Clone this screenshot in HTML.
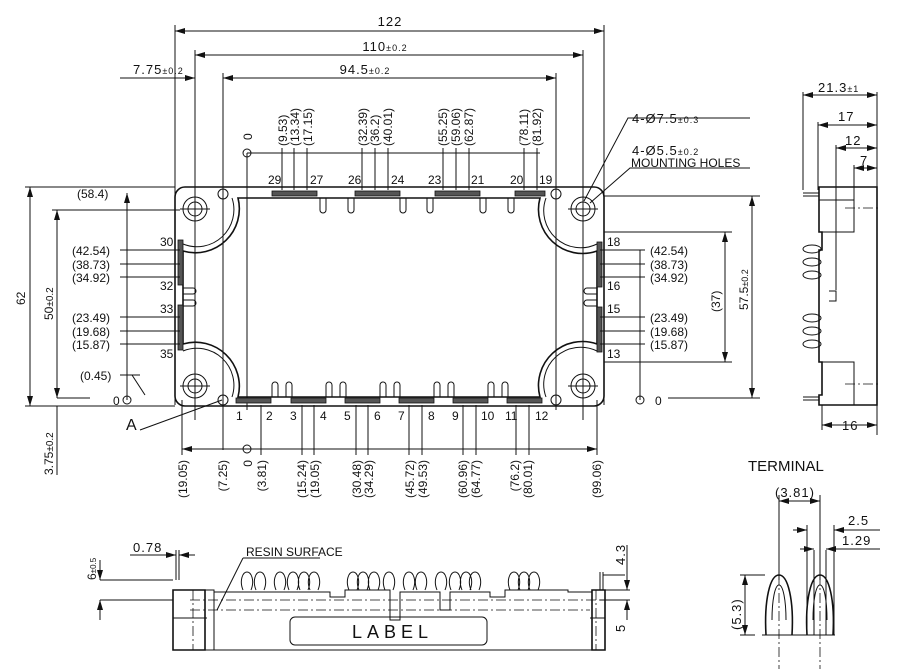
<!DOCTYPE html>
<html><head><meta charset="utf-8"><style>
html,body{margin:0;padding:0;background:#fff;}
svg{display:block;font-family:"Liberation Sans",sans-serif;}
text{fill:#111;}
.l{stroke:#111;stroke-width:1;fill:none;}
.t{stroke:#111;stroke-width:1.6;fill:none;}
.d{stroke:#111;stroke-width:0.8;fill:none;stroke-dasharray:10 3 2 3;}
.n{font-size:12px;font-family:"Liberation Sans Narrow","Liberation Sans",sans-serif;}
.m{font-size:13px;letter-spacing:1px;}
</style></head><body>
<svg width="900" height="669" viewBox="0 0 900 669" xmlns="http://www.w3.org/2000/svg">
<defs>
<marker id="a" viewBox="0 0 10 6" refX="10" refY="3" markerWidth="10" markerHeight="6" orient="auto-start-reverse" markerUnits="userSpaceOnUse"><path d="M0,0L10,3L0,6z" fill="#111"/></marker>
</defs>

<line class="l" x1="175" y1="31" x2="604" y2="31" marker-start="url(#a)" marker-end="url(#a)"/>
<text x="390" y="26" class="m" text-anchor="middle" font-size="14">122</text>
<line class="l" x1="195" y1="55" x2="583" y2="55" marker-start="url(#a)" marker-end="url(#a)"/>
<text x="385" y="51" class="m" text-anchor="middle">110<tspan font-size="9">±0.2</tspan></text>
<line class="l" x1="120" y1="78" x2="195" y2="78" marker-end="url(#a)"/>
<line class="l" x1="223" y1="78" x2="556" y2="78" marker-start="url(#a)" marker-end="url(#a)"/>
<text x="133" y="74" class="m">7.75<tspan font-size="9">±0.2</tspan></text>
<text x="365" y="74" class="m" text-anchor="middle">94.5<tspan font-size="9">±0.2</tspan></text>
<line class="l" x1="175" y1="25" x2="175" y2="405"/>
<line class="l" x1="604" y1="25" x2="604" y2="405"/>
<line class="l" x1="195" y1="50" x2="195" y2="420"/>
<line class="l" x1="583" y1="50" x2="583" y2="420"/>
<line class="l" x1="223" y1="73" x2="223" y2="450"/>
<line class="l" x1="556" y1="73" x2="556" y2="410"/>

<circle class="l" cx="247" cy="153" r="4"/>
<text x="252" y="140" class="n" transform="rotate(-90 252 140)">0</text>
<line class="l" x1="247" y1="153" x2="540" y2="153"/>
<g class="l">
<line x1="247" y1="153" x2="247" y2="410"/>
<line x1="282" y1="148" x2="282" y2="190"/><line x1="294" y1="148" x2="294" y2="190"/><line x1="307" y1="148" x2="307" y2="190"/>
<line x1="362" y1="148" x2="362" y2="190"/><line x1="375" y1="148" x2="375" y2="190"/><line x1="388" y1="148" x2="388" y2="190"/>
<line x1="443" y1="148" x2="443" y2="190"/><line x1="456" y1="148" x2="456" y2="190"/><line x1="469" y1="148" x2="469" y2="190"/>
<line x1="524" y1="148" x2="524" y2="190"/><line x1="537" y1="148" x2="537" y2="190"/>
</g>
<g class="n" font-size="13">
<text transform="translate(287,146) rotate(-90)">(9.53)</text>
<text transform="translate(299,146) rotate(-90)">(13.34)</text>
<text transform="translate(312,146) rotate(-90)">(17.15)</text>
<text transform="translate(367,146) rotate(-90)">(32.39)</text>
<text transform="translate(379,146) rotate(-90)">(36.2)</text>
<text transform="translate(392,146) rotate(-90)">(40.01)</text>
<text transform="translate(447,146) rotate(-90)">(55.25)</text>
<text transform="translate(460,146) rotate(-90)">(59.06)</text>
<text transform="translate(473,146) rotate(-90)">(62.87)</text>
<text transform="translate(528,146) rotate(-90)">(78.11)</text>
<text transform="translate(541,146) rotate(-90)">(81.92)</text>
</g>
<g class="n">
<text x="268" y="184">29</text><text x="310" y="184">27</text><text x="348" y="184">26</text><text x="391" y="184">24</text>
<text x="428" y="184">23</text><text x="471" y="184">21</text><text x="510" y="184">20</text><text x="539" y="184">19</text>
</g>

<rect class="t" x="175" y="187" width="429" height="219" rx="10"/>
<path class="t" d="M238,198 L540,198 A44,44 0 0 0 597,251 L597,344 A44,44 0 0 0 540,397 L238,397 A44,44 0 0 0 183,344 L183,251 A44,44 0 0 0 238,198 Z"/>
<path class="l" d="M183,244 A37,37 0 0 0 232,198 M546,198 A37,37 0 0 0 597,244 M597,351 A37,37 0 0 0 546,397 M232,397 A37,37 0 0 0 183,351"/>
<g class="l">
<circle cx="195" cy="209" r="12"/><circle cx="195" cy="209" r="7"/>
<circle cx="583" cy="209" r="12"/><circle cx="583" cy="209" r="7"/>
<circle cx="195" cy="386" r="12"/><circle cx="195" cy="386" r="7"/>
<circle cx="583" cy="386" r="12"/><circle cx="583" cy="386" r="7"/>
<circle cx="223" cy="194" r="5"/><circle cx="556" cy="194" r="5"/>
<circle cx="223" cy="400" r="5"/><circle cx="556" cy="400" r="5"/>
<path d="M180,209H210M195,194V224M568,209H598M583,194V224M180,386H210M195,371V401M568,386H598M583,371V401"/>
</g>
<g fill="#555" stroke="#111" stroke-width="0.8">
<rect x="272" y="191" width="45" height="5"/><rect x="355" y="191" width="45" height="5"/>
<rect x="435" y="191" width="45" height="5"/><rect x="515" y="191" width="30" height="5"/>
<rect x="236" y="398" width="35" height="5"/><rect x="291" y="398" width="35" height="5"/>
<rect x="345" y="398" width="35" height="5"/><rect x="399" y="398" width="35" height="5"/>
<rect x="453" y="398" width="35" height="5"/><rect x="507" y="398" width="35" height="5"/>
<rect x="178" y="240" width="5" height="45"/><rect x="178" y="305" width="5" height="45"/>
<rect x="597" y="242" width="5" height="45"/><rect x="597" y="307" width="5" height="45"/>
</g>
<g class="l">
<path d="M320,198v12a3,3 0 0 0 6,0v-12M348,198v12a3,3 0 0 0 6,0v-12M400,198v12a3,3 0 0 0 6,0v-12M427,198v12a3,3 0 0 0 6,0v-12M480,198v12a3,3 0 0 0 6,0v-12M508,198v12a3,3 0 0 0 6,0v-12"/>
<path d="M272,397v-12a3,3 0 0 1 6,0v12M286,397v-12a3,3 0 0 1 6,0v12M326,397v-12a3,3 0 0 1 6,0v12M340,397v-12a3,3 0 0 1 6,0v12M380,397v-12a3,3 0 0 1 6,0v12M394,397v-12a3,3 0 0 1 6,0v12M434,397v-12a3,3 0 0 1 6,0v12M448,397v-12a3,3 0 0 1 6,0v12M488,397v-12a3,3 0 0 1 6,0v12M502,397v-12a3,3 0 0 1 6,0v12"/>
<path d="M183,288h10a3,3 0 0 1 0,6h-10M183,300h10a3,3 0 0 1 0,6h-10M597,288h-10a3,3 0 0 0 0,6h10M597,300h-10a3,3 0 0 0 0,6h10"/>
</g>
<g class="n">
<text x="160" y="246">30</text><text x="160" y="290">32</text><text x="160" y="313">33</text><text x="160" y="358">35</text>
<text x="607" y="246">18</text><text x="607" y="290">16</text><text x="607" y="313">15</text><text x="607" y="358">13</text>
</g>

<g class="n" font-size="14">
<text x="236" y="420">1</text><text x="266" y="420">2</text><text x="290" y="420">3</text><text x="320" y="420">4</text>
<text x="344" y="420">5</text><text x="374" y="420">6</text><text x="398" y="420">7</text><text x="428" y="420">8</text>
<text x="452" y="420">9</text><text x="481" y="420">10</text><text x="505" y="420">11</text><text x="535" y="420">12</text>
</g>
<line class="l" x1="182" y1="449" x2="597" y2="449" marker-start="url(#a)" marker-end="url(#a)"/>
<circle class="l" cx="247" cy="449" r="4"/>
<g class="l">
<line x1="182" y1="400" x2="182" y2="455"/><line x1="597" y1="400" x2="597" y2="455"/>
<line x1="261" y1="405" x2="261" y2="455"/>
<line x1="302" y1="405" x2="302" y2="455"/><line x1="314" y1="405" x2="314" y2="455"/>
<line x1="356" y1="405" x2="356" y2="455"/><line x1="368" y1="405" x2="368" y2="455"/>
<line x1="409" y1="405" x2="409" y2="455"/><line x1="422" y1="405" x2="422" y2="455"/>
<line x1="463" y1="405" x2="463" y2="455"/><line x1="476" y1="405" x2="476" y2="455"/>
<line x1="516" y1="405" x2="516" y2="455"/><line x1="529" y1="405" x2="529" y2="455"/>
</g>
<g class="n" font-size="13" text-anchor="end">
<text transform="translate(187,460) rotate(-90)">(19.05)</text>
<text transform="translate(227,460) rotate(-90)">(7.25)</text>
<text transform="translate(252,460) rotate(-90)">0</text>
<text transform="translate(266,460) rotate(-90)">(3.81)</text>
<text transform="translate(306,460) rotate(-90)">(15.24)</text>
<text transform="translate(319,460) rotate(-90)">(19.05)</text>
<text transform="translate(361,460) rotate(-90)">(30.48)</text>
<text transform="translate(373,460) rotate(-90)">(34.29)</text>
<text transform="translate(414,460) rotate(-90)">(45.72)</text>
<text transform="translate(427,460) rotate(-90)">(49.53)</text>
<text transform="translate(467,460) rotate(-90)">(60.96)</text>
<text transform="translate(480,460) rotate(-90)">(64.77)</text>
<text transform="translate(519,460) rotate(-90)">(76.2)</text>
<text transform="translate(532,460) rotate(-90)">(80.01)</text>
<text transform="translate(601,460) rotate(-90)">(99.06)</text>
</g>

<line class="l" x1="25" y1="187" x2="175" y2="187"/>
<line class="l" x1="30" y1="187" x2="30" y2="406" marker-start="url(#a)" marker-end="url(#a)"/>
<text transform="translate(25,305) rotate(-90)" class="n" font-size="14">62</text>
<line class="l" x1="52" y1="210" x2="180" y2="210"/>
<line class="l" x1="57" y1="210" x2="57" y2="398" marker-start="url(#a)" marker-end="url(#a)"/>
<text transform="translate(53,320) rotate(-90)" class="n" font-size="14">50<tspan font-size="10">±0.2</tspan></text>
<line class="l" x1="25" y1="406" x2="175" y2="406"/>
<line class="l" x1="57" y1="398" x2="90" y2="398"/>
<line class="l" x1="57" y1="406" x2="57" y2="475"/>
<text transform="translate(53,475) rotate(-90)" class="n" font-size="14">3.75<tspan font-size="10">±0.2</tspan></text>
<line class="l" x1="127" y1="193" x2="127" y2="400" marker-start="url(#a)"/>
<circle class="l" cx="127" cy="400" r="4"/>
<text x="113" y="405" class="n">0</text>
<text x="77" y="198" class="n" font-size="13">(58.4)</text>
<g class="l"><line x1="120" y1="250" x2="180" y2="250"/><line x1="120" y1="264" x2="180" y2="264"/><line x1="120" y1="277" x2="180" y2="277"/>
<line x1="120" y1="317" x2="180" y2="317"/><line x1="120" y1="331" x2="180" y2="331"/><line x1="120" y1="344" x2="180" y2="344"/>
<line x1="120" y1="375" x2="140" y2="375"/><path d="M132,375L145,395"/></g>
<g class="n" font-size="13">
<text x="72" y="255">(42.54)</text><text x="72" y="269">(38.73)</text><text x="72" y="282">(34.92)</text>
<text x="72" y="322">(23.49)</text><text x="72" y="336">(19.68)</text><text x="72" y="349">(15.87)</text>
<text x="80" y="380">(0.45)</text>
</g>
<text x="126" y="430" font-size="16">A</text>
<path class="l" d="M140,430L222,400"/>

<path class="l" d="M584,201L628,118H750M590,203L630,168H750"/>
<text x="632" y="123" class="m">4-Ø7.5<tspan font-size="9">±0.3</tspan></text>
<text x="632" y="155" class="m">4-Ø5.5<tspan font-size="9">±0.2</tspan></text>
<text x="631" y="167" font-size="10" class="n">MOUNTING HOLES</text>
<line class="l" x1="604" y1="196" x2="760" y2="196"/>
<line class="l" x1="752" y1="196" x2="752" y2="398" marker-start="url(#a)" marker-end="url(#a)"/>
<text transform="translate(748,310) rotate(-90)" class="n" font-size="13">57.5<tspan font-size="9">±0.2</tspan></text>
<line class="l" x1="604" y1="232" x2="732" y2="232"/><line class="l" x1="604" y1="362" x2="732" y2="362"/>
<line class="l" x1="725" y1="232" x2="725" y2="362" marker-start="url(#a)" marker-end="url(#a)"/>
<text transform="translate(720,312) rotate(-90)" class="n" font-size="13">(37)</text>
<line class="l" x1="640" y1="250" x2="640" y2="400"/>
<circle class="l" cx="640" cy="400" r="4"/>
<text x="655" y="405" class="n" font-size="13">0</text>
<line class="l" x1="668" y1="398" x2="760" y2="398"/>
<g class="l"><line x1="600" y1="250" x2="645" y2="250"/><line x1="600" y1="264" x2="645" y2="264"/><line x1="600" y1="277" x2="645" y2="277"/>
<line x1="600" y1="317" x2="645" y2="317"/><line x1="600" y1="331" x2="645" y2="331"/><line x1="600" y1="344" x2="645" y2="344"/></g>
<g class="n" font-size="13">
<text x="650" y="255">(42.54)</text><text x="650" y="269">(38.73)</text><text x="650" y="282">(34.92)</text>
<text x="650" y="322">(23.49)</text><text x="650" y="336">(19.68)</text><text x="650" y="349">(15.87)</text>
</g>

<g class="l">
<line x1="803" y1="92" x2="803" y2="190"/><line x1="877" y1="92" x2="877" y2="435"/>
<line x1="803" y1="95" x2="877" y2="95" marker-start="url(#a)" marker-end="url(#a)"/>
<line x1="818" y1="122" x2="818" y2="190"/>
<line x1="818" y1="125" x2="877" y2="125" marker-start="url(#a)" marker-end="url(#a)"/>
<line x1="836" y1="145" x2="836" y2="290"/>
<line x1="836" y1="148" x2="877" y2="148" marker-start="url(#a)" marker-end="url(#a)"/>
<line x1="854" y1="165" x2="854" y2="187"/>
<line x1="854" y1="168" x2="877" y2="168" marker-start="url(#a)" marker-end="url(#a)"/>
<path class="t" d="M819,187H877V405H819V395H822V362H819V250H822V232H819Z"/>
<path d="M819,200H854V232H822M822,362H854V405"/>
<line x1="854" y1="187" x2="854" y2="232"/>
<path d="M829,291h7v10h-7"/>
<line x1="822" y1="405" x2="822" y2="430"/>
<line x1="822" y1="425" x2="877" y2="425" marker-start="url(#a)" marker-end="url(#a)"/>
</g>
<path class="d" d="M845,208H880M845,384H880"/>
<g class="l">
<path d="M803,193h16M803,196h16"/><path d="M803,397h16M803,400h16"/>
<ellipse cx="812" cy="249" rx="9" ry="4"/><ellipse cx="812" cy="262" rx="9" ry="4"/><ellipse cx="812" cy="275" rx="9" ry="4"/>
<ellipse cx="812" cy="318" rx="9" ry="4"/><ellipse cx="812" cy="331" rx="9" ry="4"/><ellipse cx="812" cy="344" rx="9" ry="4"/>
</g>
<text x="818" y="92" class="m">21.3<tspan font-size="9">±1</tspan></text>
<text x="838" y="121" class="m">17</text>
<text x="845" y="145" class="m">12</text>
<text x="860" y="165" class="m">7</text>
<text x="842" y="430" class="m">16</text>

<text x="748" y="471" font-size="15">TERMINAL</text>
<g class="l">
<line x1="779" y1="495" x2="779" y2="580"/><line x1="820" y1="495" x2="820" y2="580"/>
<line x1="779" y1="501" x2="820" y2="501" marker-start="url(#a)" marker-end="url(#a)"/>
<line x1="807" y1="525" x2="807" y2="635"/><line x1="834" y1="525" x2="834" y2="635"/>
<line x1="793" y1="530" x2="807" y2="530" marker-end="url(#a)"/><line x1="834" y1="530" x2="880" y2="530" marker-start="url(#a)"/>
<line x1="814" y1="550" x2="814" y2="635"/><line x1="826" y1="550" x2="826" y2="635"/>
<line x1="800" y1="549" x2="814" y2="549" marker-end="url(#a)"/><line x1="826" y1="549" x2="880" y2="549" marker-start="url(#a)"/>
<path class="t" d="M766,635C764,600 770,575 779,575C788,575 794,600 792,635"/>
<path d="M772,620C772,600 775,585 779,585C783,585 786,600 786,620"/>
<path class="t" d="M807,635C805,600 811,575 820,575C829,575 835,600 833,635"/>
<path d="M813,620C813,600 816,585 820,585C824,585 827,600 827,620"/>
<line x1="740" y1="575" x2="765" y2="575"/>
<path d="M740,635H755M762,635H835"/>
<line x1="745" y1="575" x2="745" y2="635" marker-start="url(#a)" marker-end="url(#a)"/>
</g>
<path class="d" d="M779,575V669M820,575V669"/>
<text x="775" y="497" class="m">(3.81)</text>
<text x="848" y="525" class="m">2.5</text>
<text x="842" y="545" class="m">1.29</text>
<text transform="translate(741,630) rotate(-90)" class="m">(5.3)</text>

<g class="l">
<path class="t" d="M173,590H205V650H173Z"/>
<path class="t" d="M592,590H605V650H592Z"/>
<path d="M205,590H214V650H205M213,650H592"/>
<path d="M214,592H330V597H345V590H390V620H400V592H440V610H450V592H490V597H505V590H568V592H592"/>
<path d="M173,618H207M590,618H605"/>
<rect x="290" y="617" width="197" height="28" rx="5"/>
<path d="M173,580H100M173,600H100M600,590H630M600,600H630"/>
<line x1="100" y1="560" x2="100" y2="580" marker-end="url(#a)"/><line x1="100" y1="620" x2="100" y2="600" marker-end="url(#a)"/>
<line x1="627" y1="545" x2="627" y2="590" marker-end="url(#a)"/><line x1="627" y1="620" x2="627" y2="600" marker-end="url(#a)"/>
<path d="M130,555H172M182,555H195"/>
<line x1="162" y1="555" x2="176" y2="555" marker-end="url(#a)"/>
<line x1="188" y1="555" x2="179" y2="555" marker-end="url(#a)"/>
<path d="M176,550V580M179,550V580"/>
<path d="M243,558H320M243,558L217,610"/>
<path d="M600,572V590M603,572V590M603,575H625"/>
</g>
<path class="d" d="M190,600H600M190,610H590M193,590V650M596,590V650"/>
<g class="l">
<path d="M243,590c-4,-10 0,-18 4,-18c4,0 8,8 4,18M256,590c-4,-10 0,-18 4,-18c4,0 8,8 4,18M276,590c-4,-10 0,-18 4,-18c4,0 8,8 4,18M289,590c-4,-10 0,-18 4,-18c4,0 8,8 4,18M300,590c-4,-10 0,-18 4,-18c4,0 8,8 4,18M310,590c-4,-10 0,-18 4,-18c4,0 8,8 4,18M349,590c-4,-10 0,-18 4,-18c4,0 8,8 4,18M359,590c-4,-10 0,-18 4,-18c4,0 8,8 4,18M370,590c-4,-10 0,-18 4,-18c4,0 8,8 4,18M385,590c-4,-10 0,-18 4,-18c4,0 8,8 4,18M405,590c-4,-10 0,-18 4,-18c4,0 8,8 4,18M417,590c-4,-10 0,-18 4,-18c4,0 8,8 4,18M437,590c-4,-10 0,-18 4,-18c4,0 8,8 4,18M451,590c-4,-10 0,-18 4,-18c4,0 8,8 4,18M462,590c-4,-10 0,-18 4,-18c4,0 8,8 4,18M471,590c-4,-10 0,-18 4,-18c4,0 8,8 4,18M510,590c-4,-10 0,-18 4,-18c4,0 8,8 4,18M520,590c-4,-10 0,-18 4,-18c4,0 8,8 4,18M530,590c-4,-10 0,-18 4,-18c4,0 8,8 4,18"/>
</g>
<text x="133" y="552" class="m">0.78</text>
<text x="246" y="556" font-size="10" class="n">RESIN SURFACE</text>
<text transform="translate(96,580) rotate(-90)" class="n" font-size="13">6<tspan font-size="8">±0.5</tspan></text>
<text transform="translate(625,565) rotate(-90)" class="m">4.3</text>
<text transform="translate(625,632) rotate(-90)" class="m">5</text>
<text x="352" y="638" font-size="18" letter-spacing="5">LABEL</text>
</svg>
</body></html>
